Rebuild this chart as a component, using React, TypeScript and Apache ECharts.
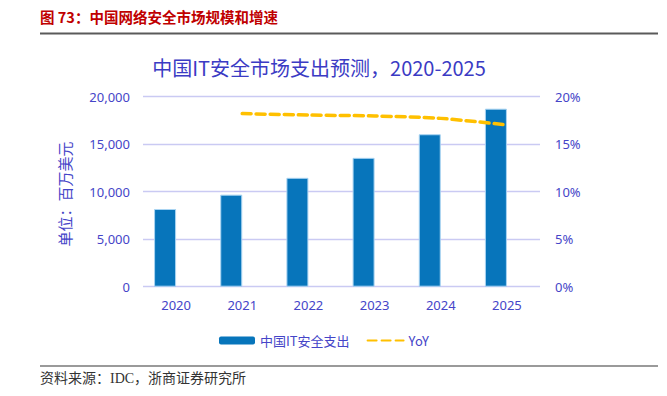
import React, { useEffect, useRef } from "react";
import * as echarts from "echarts";

const categories = ["2020", "2021", "2022", "2023", "2024", "2025"];
const spending = [8170, 9680, 11450, 13550, 16030, 18720];
const yoy = [null, 18.2, 18.05, 17.95, 17.7, 17.0];
const leftTicks = [0, 5000, 10000, 15000, 20000];
const rightTicks = [0, 5, 10, 15, 20];

const axisColor = "#4545c8";
const gridColor = "#cacaf3";

export default function App() {
  const ref = useRef<HTMLDivElement>(null);
  useEffect(() => {
    const chart = echarts.init(ref.current!, null, { renderer: "svg" });
    chart.setOption({
      animation: false,
      backgroundColor: "#ffffff",
      title: {
        text: "中国IT安全市场支出预测，2020-2025",
        left: 314,
        textAlign: "center",
        top: 52,
        textStyle: {
          fontFamily: "Noto Sans CJK SC",
          fontWeight: "normal",
          fontSize: 20,
          color: "#3b3bc4",
        },
      },
      grid: { left: 143, right: 127, top: 96.5, bottom: 109.3, containLabel: false },
      legend: {
        data: ["中国IT安全支出", "YoY"],
        left: 214,
        top: 329,
        itemWidth: 36,
        itemHeight: 8,
        itemGap: 17,
        itemStyle: { borderWidth: 0 },
        textStyle: { fontFamily: "Noto Sans CJK SC", fontSize: 13, color: axisColor },
      },
      xAxis: {
        type: "category",
        data: categories,
        axisLine: { show: false },
        axisTick: { show: false },
        axisLabel: { color: axisColor, fontSize: 13, fontFamily: "Noto Sans, Noto Sans CJK SC", margin: 12 },
      },
      yAxis: [
        {
          type: "value",
          min: leftTicks[0],
          max: leftTicks[leftTicks.length - 1],
          interval: 5000,
          axisLine: { show: false },
          axisTick: { show: false },
          splitLine: { lineStyle: { color: gridColor, width: 1.3 } },
          axisLabel: {
            color: axisColor,
            fontSize: 13,
            margin: 13,
            fontFamily: "Noto Sans, Noto Sans CJK SC",
            formatter: (v: number) => v.toLocaleString("en-US"),
          },
        },
        {
          type: "value",
          min: rightTicks[0],
          max: rightTicks[rightTicks.length - 1],
          interval: 5,
          axisLine: { show: false },
          axisTick: { show: false },
          splitLine: { show: false },
          axisLabel: {
            color: axisColor,
            fontSize: 13,
            margin: 15,
            fontFamily: "Noto Sans, Noto Sans CJK SC",
            formatter: (v: number) => v + "%",
          },
        },
      ],
      series: [
        {
          name: "中国IT安全支出",
          type: "bar",
          data: spending,
          barWidth: 22,
          barGap: "0%",
          itemStyle: { color: "#0775bb", borderColor: "#a9d4f2", borderWidth: 1 },
        },
        {
          name: "spacer",
          type: "bar",
          data: categories.map(() => null),
          barWidth: 22,
          barGap: "0%",
          itemStyle: { color: "transparent" },
        },
        {
          name: "YoY",
          type: "line",
          yAxisIndex: 1,
          data: yoy,
          smooth: 0.3,
          symbol: "none",
          lineStyle: { color: "#ffc000", width: 3.5, type: [9, 5], cap: "round" },
          itemStyle: { color: "rgba(0,0,0,0)", borderWidth: 0 },
        },
      ],
      graphic: [
        {
          type: "text",
          left: 40,
          top: 9,
          style: {
            text: "图 73：中国网络安全市场规模和增速",
            fill: "#c00000",
            font: "bold 14.5px 'Noto Sans CJK SC'",
          },
        },
        {
          type: "line",
          shape: { x1: 40, y1: 33.5, x2: 658, y2: 33.5 },
          style: { stroke: "#5a5a5a", lineWidth: 2 },
        },
        {
          type: "text",
          x: 64,
          y: 194,
          rotation: Math.PI / 2,
          style: {
            text: "单位：百万美元",
            fill: axisColor,
            font: "15px 'Noto Sans CJK SC'",
            align: "center",
            verticalAlign: "middle",
          },
        },
        {
          type: "line",
          shape: { x1: 40, y1: 366, x2: 658, y2: 366 },
          style: { stroke: "#9a9a9a", lineWidth: 2 },
        },
        {
          type: "text",
          left: 40,
          top: 371,
          style: {
            text: "资料来源：IDC，浙商证券研究所",
            fill: "#333333",
            font: "14px 'Liberation Serif', 'Noto Sans CJK SC'",
          },
        },
      ],
    });
    return () => chart.dispose();
  }, []);
  return <div ref={ref} style={{ position: "fixed", left: 0, top: 0, width: 667, height: 396 }} />;
}
